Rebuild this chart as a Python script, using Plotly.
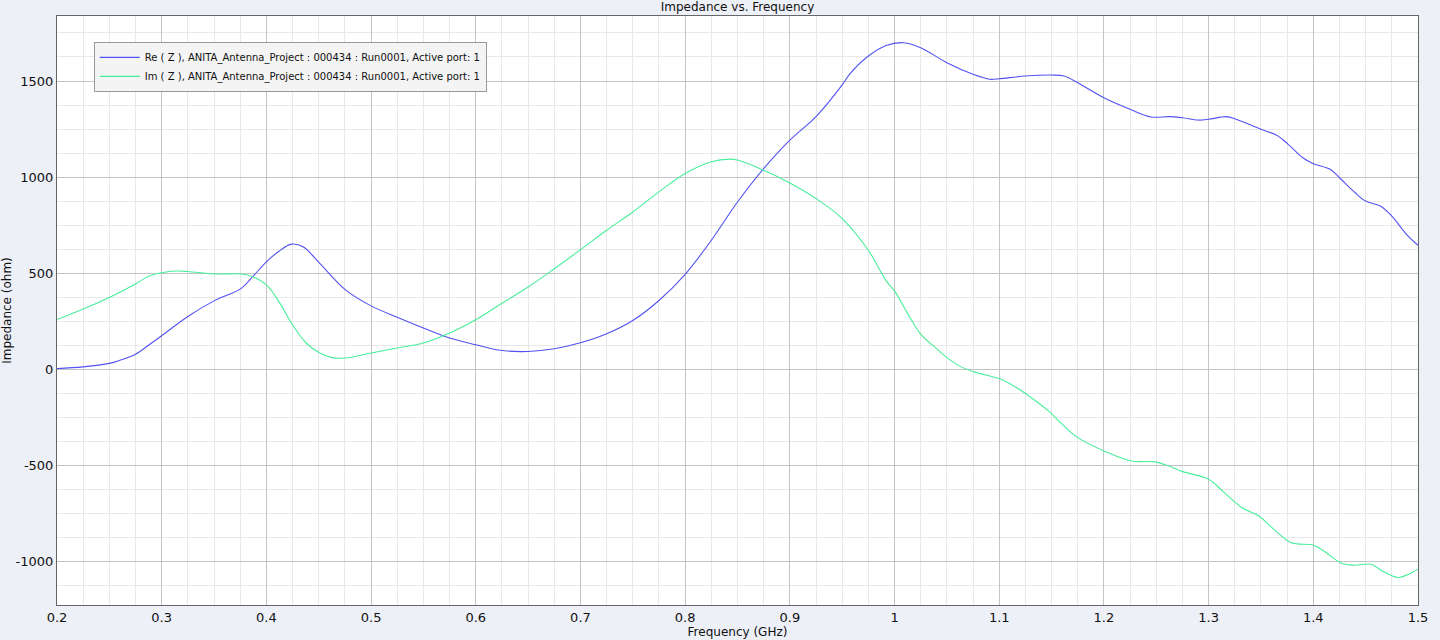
import plotly.graph_objects as go

# Frequency (GHz) and impedance (ohm)
freq_re = [0.2, 0.225, 0.25, 0.26, 0.275, 0.288, 0.3, 0.325, 0.35, 0.376, 0.387, 0.4,
           0.412, 0.424, 0.435, 0.451, 0.475, 0.5, 0.525, 0.55, 0.575, 0.6, 0.623,
           0.65, 0.675, 0.7, 0.725, 0.75, 0.775, 0.8, 0.825, 0.85, 0.875, 0.9,
           0.925, 0.95, 0.957, 0.975, 0.992, 1.009, 1.025, 1.05, 1.075, 1.091, 1.1,
           1.125, 1.15, 1.162, 1.175, 1.2, 1.225, 1.245, 1.263, 1.275, 1.29, 1.3,
           1.317, 1.325, 1.35, 1.365, 1.376, 1.39, 1.4, 1.416, 1.426, 1.44, 1.45,
           1.464, 1.475, 1.489, 1.5]
re_z = [5, 14, 32, 48, 80, 129, 176, 276, 357, 422, 483, 560,
        615, 652, 638, 552, 417, 331, 272, 216, 164, 129, 100,
        94, 108, 139, 186, 255, 359, 495, 672, 871, 1045, 1193,
        1315, 1480, 1535, 1630, 1685, 1699, 1673, 1595, 1535, 1509, 1512,
        1526, 1531, 1526, 1491, 1413, 1353, 1313, 1315, 1309, 1297, 1301,
        1315, 1304, 1249, 1218, 1171, 1101, 1070, 1041, 992, 919, 876,
        850, 798, 703, 646]

freq_im = [0.2, 0.225, 0.25, 0.275, 0.288, 0.3, 0.314, 0.325, 0.35, 0.376, 0.387,
           0.4, 0.412, 0.424, 0.438, 0.451, 0.463, 0.475, 0.5, 0.525, 0.55, 0.575,
           0.6, 0.623, 0.65, 0.675, 0.7, 0.725, 0.75, 0.775, 0.8, 0.825, 0.842,
           0.85, 0.875, 0.9, 0.925, 0.95, 0.975, 0.992, 1.0, 1.012, 1.025, 1.039,
           1.052, 1.065, 1.076, 1.1, 1.111, 1.126, 1.147, 1.16, 1.175, 1.2, 1.226,
           1.249, 1.262, 1.276, 1.3, 1.315, 1.332, 1.348, 1.364, 1.379, 1.4, 1.41,
           1.427, 1.439, 1.455, 1.466, 1.481, 1.493, 1.5]
im_z = [260, 315, 375, 445, 486, 503, 512, 510, 497, 497, 483,
        440, 353, 241, 138, 86, 62, 60, 86, 112, 138, 190,
        259, 338, 429, 524, 623, 724, 819, 924, 1019, 1080, 1094,
        1089, 1036, 970, 889, 785, 620, 461, 409, 296, 184, 114,
        54, 10, -12, -47, -76, -128, -215, -284, -354, -423, -475,
        -480, -501, -532, -570, -640, -718, -761, -839, -900, -913, -943,
        -1007, -1017, -1012, -1047, -1081, -1059, -1038]

y_ticks = [-1000, -500, 0, 500, 1000, 1500]
x_ticks = [0.2, 0.3, 0.4, 0.5, 0.6, 0.7, 0.8, 0.9, 1.0, 1.1, 1.2, 1.3, 1.4, 1.5]
x_ticklabels = ["0.2", "0.3", "0.4", "0.5", "0.6", "0.7", "0.8", "0.9", "1",
                "1.1", "1.2", "1.3", "1.4", "1.5"]

label_re = "Re ( Z ), ANITA_Antenna_Project : 000434 : Run0001, Active port: 1"
label_im = "Im ( Z ), ANITA_Antenna_Project : 000434 : Run0001, Active port: 1"

FONT = "DejaVu Sans"

fig = go.Figure()
fig.add_trace(go.Scatter(x=freq_re, y=re_z, mode="lines", name=label_re,
                         line=dict(color="#5252f2", width=1.1, shape="spline", smoothing=1.0)))
fig.add_trace(go.Scatter(x=freq_im, y=im_z, mode="lines", name=label_im,
                         line=dict(color="#48ee9a", width=1.1, shape="spline", smoothing=1.0)))

axis_common = dict(
    showline=True, linecolor="#666666", linewidth=1, mirror=True,
    showgrid=True, gridcolor="#c4c4c4", gridwidth=1,
    zeroline=False, ticks="", automargin=False,
    tickfont=dict(family=FONT, size=13, color="#111111"),
)

fig.update_xaxes(
    range=[0.2, 1.5], tickmode="array", tickvals=x_ticks, ticktext=x_ticklabels,
    minor=dict(dtick=0.025, tick0=0.2, showgrid=True, gridcolor="#e8e8e8", gridwidth=1),
    title=dict(text="Frequency (GHz)", font=dict(family=FONT, size=12, color="#111111"), standoff=2),
    **axis_common,
)
fig.update_yaxes(
    range=[-1224, 1838], tickmode="array", tickvals=y_ticks,
    ticktext=[str(v) for v in y_ticks],
    minor=dict(dtick=125, tick0=0, showgrid=True, gridcolor="#e8e8e8", gridwidth=1),
    title=dict(text="Impedance (ohm)", font=dict(family=FONT, size=12, color="#111111"), standoff=2),
    **axis_common,
)

fig.update_layout(
    width=1440, height=640,
    paper_bgcolor="#eef0f8", plot_bgcolor="#ffffff",
    margin=dict(l=57, r=22, t=16, b=35, autoexpand=False),
    title=dict(text="Impedance vs. Frequency", x=0.5, xref="paper", xanchor="center",
               y=(640 - 7) / 640, yref="container", yanchor="middle", automargin=False,
               font=dict(family=FONT, size=12, color="#111111")),
    legend=dict(x=0.027, y=0.956, xanchor="left", yanchor="top",
                bgcolor="#f4f4f4", bordercolor="#999999", borderwidth=1,
                font=dict(family=FONT, size=10, color="#111111"),
                itemwidth=40, tracegroupgap=0),
    showlegend=True,
)

fig.write_html("out.html", config={"displayModeBar": False},
               post_script="document.body.style.margin='0';document.body.style.overflow='hidden';")
